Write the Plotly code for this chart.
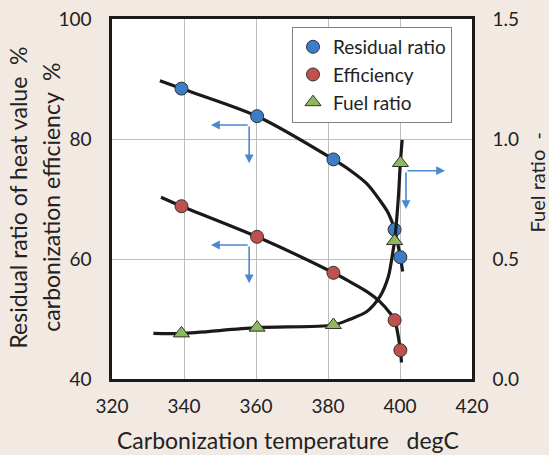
import plotly.graph_objects as go

# ---- data ----
temps = [339.3, 360.3, 381.5, 398.5, 400.1]
residual_ratio = [88.4, 83.8, 76.6, 64.9, 60.3]
efficiency = [68.8, 63.7, 57.7, 49.8, 44.8]
fuel_ratio = [0.19, 0.214, 0.225, 0.575, 0.90]

# fitted trend curves
resid_curve_x = [333.3, 339.3, 360.3, 381.5, 386.1, 390.7, 394.4, 396.8, 398.5, 400.1, 400.75]
resid_curve_y = [89.7, 88.4, 83.8, 76.6, 74.8, 72.6, 69.8, 67.6, 64.9, 60.3, 57.9]
eff_curve_x = [333.6, 339.3, 360.3, 381.5, 386.1, 390.7, 394.4, 397.2, 398.5, 400.1, 400.4]
eff_curve_y = [70.3, 68.8, 63.7, 57.7, 56.2, 54.6, 52.9, 51.0, 49.8, 44.8, 42.75]
fuel_curve_x = [331.5, 339.3, 360.3, 381.5, 386.1, 390.7, 394.4, 396.75, 398.1, 398.5, 399.5, 400.1, 400.6]
fuel_curve_y = [0.19, 0.19, 0.214, 0.225, 0.249, 0.280, 0.343, 0.426, 0.5375, 0.575, 0.746, 0.90, 0.996]

BG = "#F2E9E3"
FONT = "Lato"
BLUE = "#3D7CC9"
RED = "#C0504D"
GREEN = "#8DB85C"
ARROW = "#4A88CF"

fig = go.Figure()

line = dict(color="#1a1a1a", width=3.2, shape="spline", smoothing=0.8)
fig.add_trace(go.Scatter(x=resid_curve_x, y=resid_curve_y, mode="lines", line=line,
                         showlegend=False, hoverinfo="skip"))
fig.add_trace(go.Scatter(x=eff_curve_x, y=eff_curve_y, mode="lines", line=line,
                         showlegend=False, hoverinfo="skip"))
fig.add_trace(go.Scatter(x=fuel_curve_x, y=fuel_curve_y, mode="lines", line=line,
                         yaxis="y2", showlegend=False, hoverinfo="skip"))

mline = dict(color="#333333", width=1)
fig.add_trace(go.Scatter(x=temps, y=residual_ratio, mode="markers", name="Residual ratio",
                         marker=dict(symbol="circle", size=13, color=BLUE, line=mline)))
fig.add_trace(go.Scatter(x=temps, y=efficiency, mode="markers", name="Efficiency",
                         marker=dict(symbol="circle", size=13, color=RED, line=mline)))
fig.add_trace(go.Scatter(x=temps, y=fuel_ratio, mode="markers", name="Fuel ratio", yaxis="y2",
                         marker=dict(symbol="triangle-up", size=14, color=GREEN, line=mline)))

# blue indicator arrows (corner -> tip)
arrows = [
    (358.1, 82.33, 347.5, 82.33), (358.1, 82.33, 358.1, 75.95),
    (358.1, 62.33, 347.5, 62.33), (358.1, 62.33, 358.1, 55.95),
    (401.67, 74.72, 412.5, 74.72), (401.67, 74.72, 401.67, 68.33),
]
annotations = []
for ax_, ay_, x_, y_ in arrows:
    annotations.append(dict(x=x_, y=y_, ax=ax_, ay=ay_, xref="x", yref="y", axref="x", ayref="y",
                            text="", showarrow=True, arrowhead=2, arrowsize=1.1,
                            arrowwidth=1.6, arrowcolor=ARROW, standoff=0, startstandoff=0))

tfont = dict(family=FONT, size=19, color="#222222")
annotations += [
    dict(text="Carbonization temperature   degC", x=0.4875, y=(379 - 439.5) / 360,
         xref="paper", yref="paper",
         showarrow=False, font=dict(family=FONT, size=23, color="#222222"),
         xanchor="center", yanchor="middle"),
    dict(text="Residual ratio of heat value  %", x=-0.261, y=0.504, xref="paper", yref="paper",
         showarrow=False, textangle=-90, font=dict(family=FONT, size=23, color="#222222"),
         xanchor="center", yanchor="middle"),
    dict(text="carbonization efficiency  %", x=-0.172, y=0.504, xref="paper", yref="paper",
         showarrow=False, textangle=-90, font=dict(family=FONT, size=23, color="#222222"),
         xanchor="center", yanchor="middle"),
    dict(text="Fuel ratio  -", x=(537 - 112) / 360, y=0.546, xref="paper", yref="paper",
         showarrow=False, textangle=-90, font=dict(family=FONT, size=20, color="#222222"),
         xanchor="center", yanchor="middle"),
]

axis_common = dict(showline=True, linecolor="#1a1a1a", linewidth=2.5, ticks="",
                   tickfont=tfont, zeroline=False, automargin=False)

fig.update_layout(
    width=549, height=455,
    margin=dict(l=112, r=77, t=19, b=76, autoexpand=False),
    paper_bgcolor=BG, plot_bgcolor="white",
    font=dict(family=FONT, color="#222222"),
    xaxis=dict(range=[320, 420], dtick=20, tick0=320, showgrid=True, gridcolor="#BDBDBD",
               gridwidth=1.2, mirror=True, ticklabelstandoff=8, **axis_common),
    yaxis=dict(range=[40, 100], dtick=20, tick0=40, showgrid=True, gridcolor="#BDBDBD",
               gridwidth=1.2, mirror=True, ticklabelstandoff=14, **axis_common),
    yaxis2=dict(range=[0, 1.5], dtick=0.5, tick0=0, tickformat=".1f", overlaying="y",
                side="right", showgrid=False, ticklabelstandoff=14, **axis_common),
    legend=dict(x=0.5, y=0.978, xanchor="left", yanchor="top", bgcolor="white",
                bordercolor="#7F7F7F", borderwidth=1,
                font=dict(family=FONT, size=19, color="#222222"),
                itemwidth=30, tracegroupgap=0),
    annotations=annotations,
    showlegend=True,
)

fig.write_html("out.html", config={"displayModeBar": False},
               post_script="document.body.style.margin='0';document.body.style.background='%s';" % BG)
